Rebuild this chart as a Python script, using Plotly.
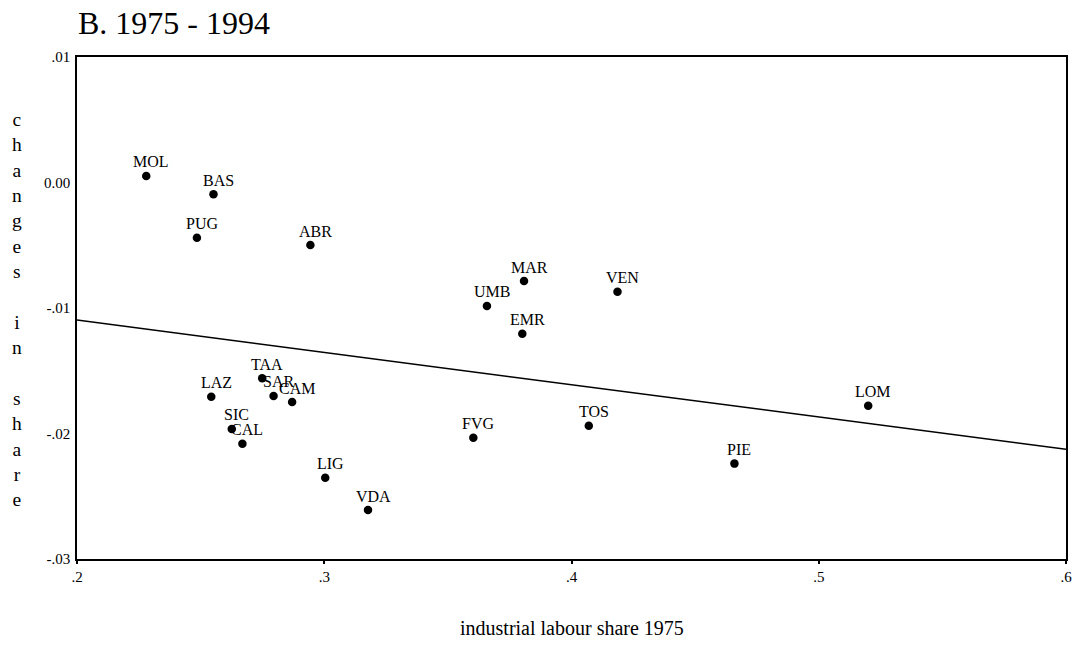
import numpy as np
import plotly.graph_objects as go

regions = ["MOL", "BAS", "PUG", "ABR", "TAA", "LAZ", "SAR", "CAM", "SIC", "CAL",
           "LIG", "VDA", "MAR", "UMB", "EMR", "VEN", "FVG", "TOS", "PIE", "LOM"]
industrial_share_1975 = [0.2280, 0.2552, 0.2485, 0.2944, 0.2749, 0.2543, 0.2795, 0.2870, 0.2626, 0.2669,
                         0.3004, 0.3177, 0.3808, 0.3658, 0.3801, 0.4186, 0.3603, 0.4070, 0.4659, 0.5200]
change_in_share = [0.00052, -0.00094, -0.00440, -0.00498, -0.01560, -0.01707, -0.01701, -0.01749, -0.01964, -0.02081,
                   -0.02352, -0.02610, -0.00785, -0.00984, -0.01205, -0.00870, -0.02033, -0.01938, -0.02240, -0.01778]

x_ticks = [0.2, 0.3, 0.4, 0.5, 0.6]
x_ticklabels = [".2", ".3", ".4", ".5", ".6"]
y_ticks = [0.01, 0.0, -0.01, -0.02, -0.03]
y_ticklabels = [".01", "0.00", "-.01", "-.02", "-.03"]

FONT = "Liberation Serif, Times New Roman, serif"

# OLS fit line
slope, intercept = np.polyfit(industrial_share_1975, change_in_share, 1)
fit_x = [0.2, 0.6]
fit_y = [intercept + slope * v for v in fit_x]

fig = go.Figure()
fig.add_trace(go.Scatter(x=fit_x, y=fit_y, mode="lines",
                         line=dict(color="black", width=1.5), showlegend=False, hoverinfo="skip"))
fig.add_trace(go.Scatter(x=industrial_share_1975, y=change_in_share, mode="markers",
                         marker=dict(color="black", size=8.5), showlegend=False, text=regions))

annotations = []
for name, xv, yv in zip(regions, industrial_share_1975, change_in_share):
    annotations.append(dict(x=xv, y=yv, text=name, showarrow=False, xref="x", yref="y",
                            xshift=5, yshift=14, yanchor="middle", xanchor="center",
                            font=dict(family=FONT, size=16, color="black")))

annotations.append(dict(x=-0.001, y=1.068, xref="paper", yref="paper", text="B. 1975 - 1994",
                        showarrow=False, xanchor="left", yanchor="middle",
                        font=dict(family=FONT, size=32, color="black")))
annotations.append(dict(x=0.5, y=-0.137, xref="paper", yref="paper", text="industrial labour share 1975",
                        showarrow=False, xanchor="center", yanchor="middle",
                        font=dict(family=FONT, size=20, color="black")))
ylabel = "<br>".join(list("changes in share".replace(" ", "\u00a0")))
annotations.append(dict(x=-0.0603, y=0.498, xref="paper", yref="paper", text=ylabel,
                        showarrow=False, xanchor="center", yanchor="middle", align="center",
                        font=dict(family=FONT, size=19.5, color="black")))

# the page body adds an 8px margin, so the figure is shrunk and offset accordingly
fig.update_layout(
    width=1076, height=637,
    margin=dict(l=69, r=12, t=49, b=86),
    paper_bgcolor="white", plot_bgcolor="white",
    annotations=annotations,
    xaxis=dict(range=[0.2, 0.6], tickvals=x_ticks, ticktext=x_ticklabels,
               showgrid=False, zeroline=False, showline=True, linecolor="black", linewidth=1.5,
               mirror=True, ticks="outside", ticklen=3, tickwidth=2, tickcolor="black",
               tickfont=dict(family=FONT, size=15, color="black")),
    yaxis=dict(range=[-0.03, 0.01], tickvals=y_ticks, ticktext=y_ticklabels,
               showgrid=False, zeroline=False, showline=True, linecolor="black", linewidth=1.5,
               mirror=True, ticks="", ticklabelstandoff=2,
               tickfont=dict(family=FONT, size=15, color="black")),
)

fig.write_html("out.html")
